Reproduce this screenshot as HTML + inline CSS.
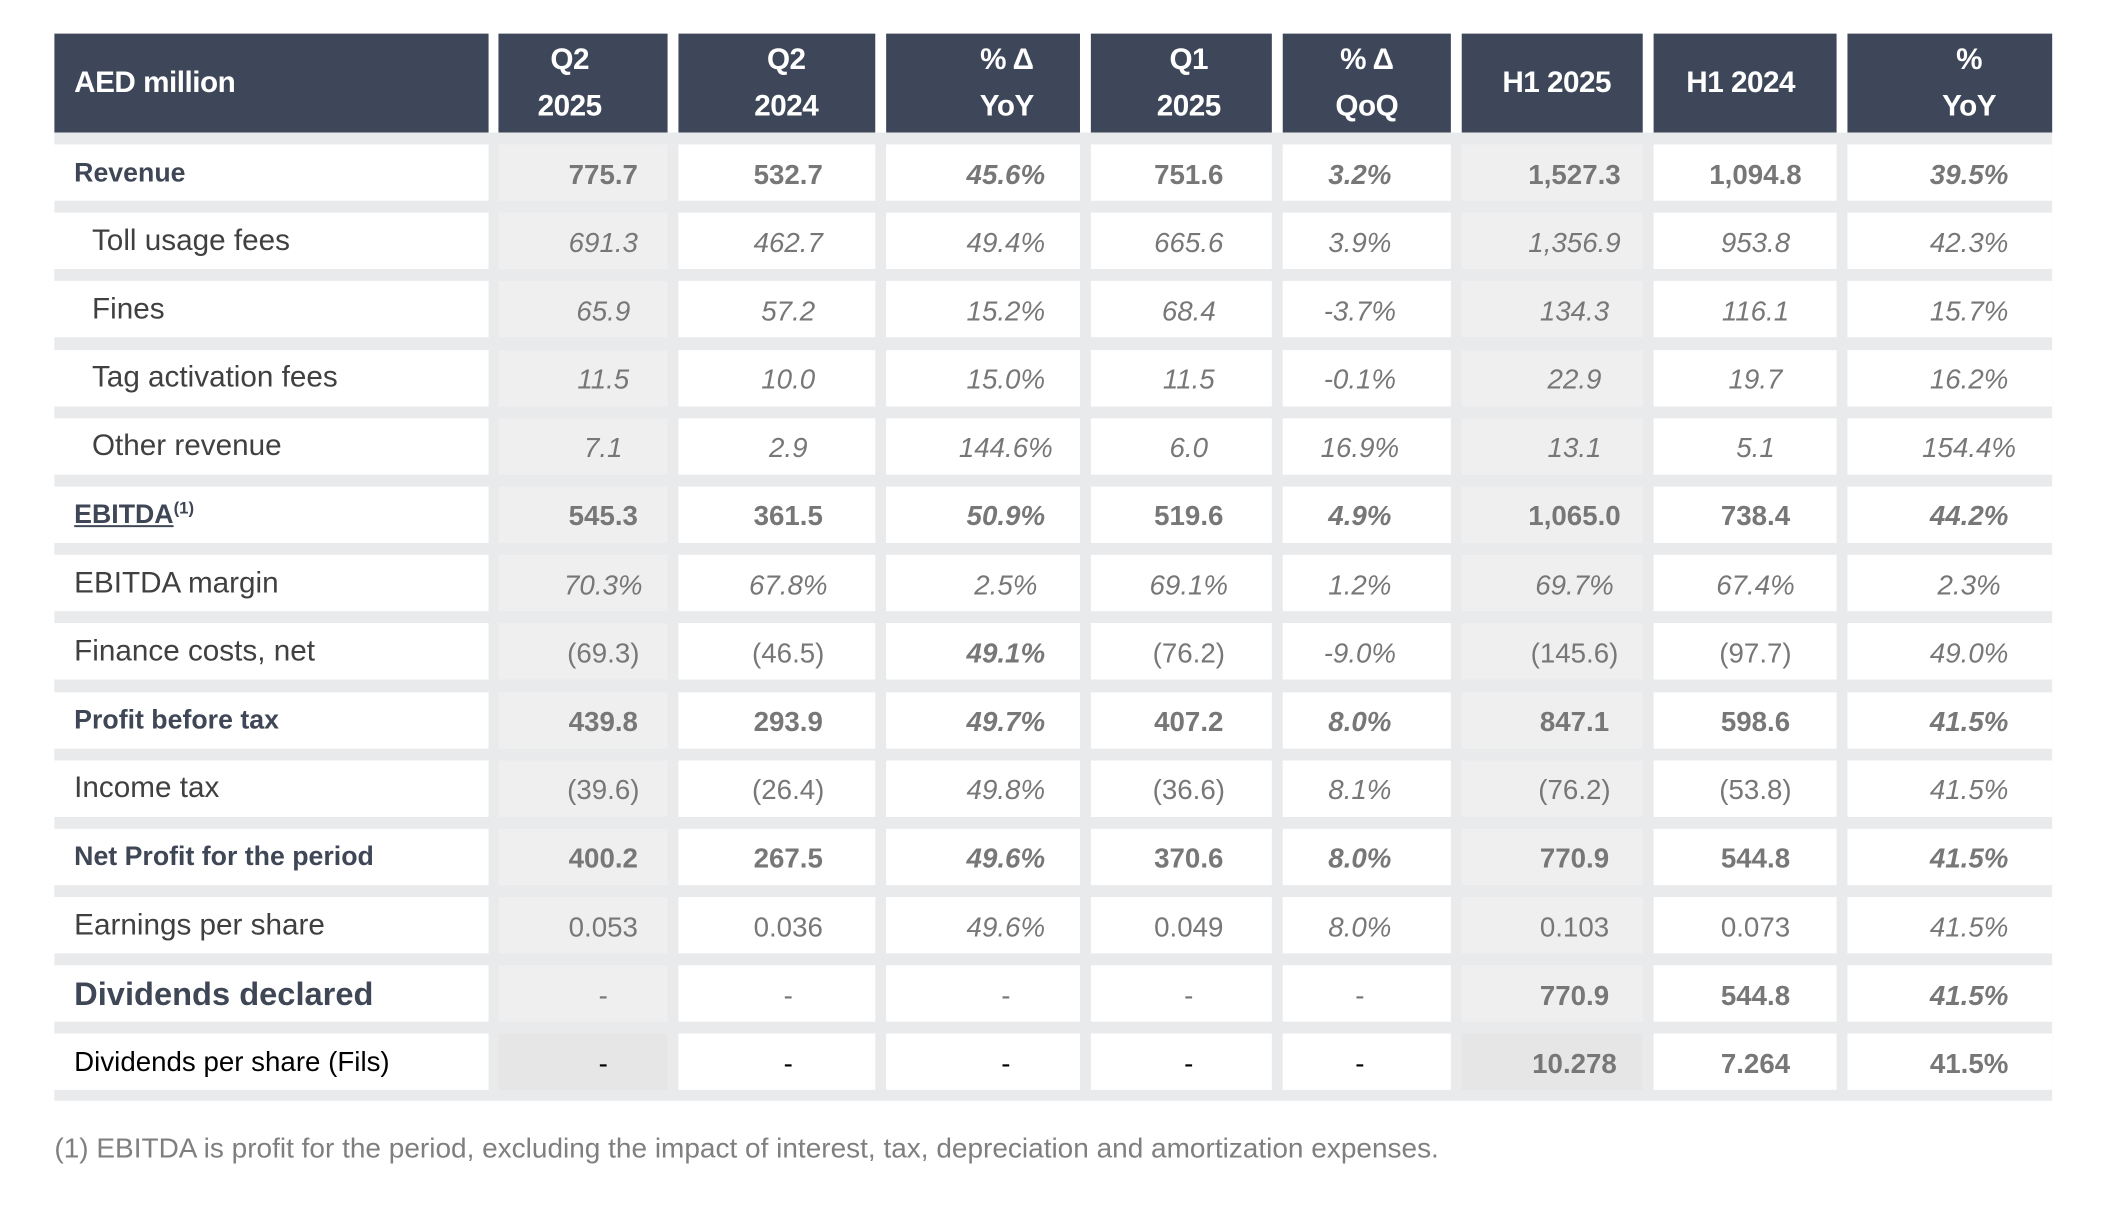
<!DOCTYPE html>
<html><head><meta charset="utf-8"><style>
body{margin:0;width:2124px;height:1227px;background:#fff;position:relative;overflow:hidden;font-family:"Liberation Sans",sans-serif}
#root{position:absolute;left:0;top:0;width:2124px;height:1227px;transform:scale(0.989);transform-origin:0 0}
.c{position:absolute}
.h{background:#3e4759;color:#fff;font-weight:bold;font-size:30px;letter-spacing:-0.5px}
.t{position:absolute;white-space:nowrap;transform:translate(-50%,-50%)}
.l{position:absolute;white-space:nowrap;transform:translateY(-50%);color:#404040;font-size:30px}
.v{color:#777;font-size:28px}
.b{font-weight:bold}.i{font-style:italic}
.dk{color:#3f4757}
</style></head><body>
<div id="root"></div>
<script>
const cols=[[55,494],[504,675],[686,885],[896,1092],[1103,1286],[1297,1467],[1478,1661],[1672,1857],[1868,2075]];
const vc=[610,797,1017,1202,1375,1592,1775,1991];
const hc=[576,795,1018,1202,1382,1574,1760,1991];
const P=69.19, T0=146, RH=57;
let h='';
cols.forEach(c=>{h+=`<div class="c h" style="left:${c[0]}px;top:34px;width:${c[1]-c[0]}px;height:100px"></div>`});
const bandEnd=T0+13*P+RH+11;
h+=`<div class="c" style="left:55px;top:134px;width:2020px;height:${bandEnd-134}px;background:#e9eaec"></div>`;
const hd=[["Q2","2025"],["Q2","2024"],["% Δ","YoY"],["Q1","2025"],["% Δ","QoQ"],["H1 2025"],["H1 2024"],["%","YoY"]];
h+=`<div class="l h" style="left:75px;top:84px;background:none;color:#fff">AED million</div>`;
hd.forEach((d,k)=>{if(d.length==2){h+=`<div class="t h" style="left:${hc[k]}px;top:61px;background:none">${d[0]}</div><div class="t h" style="left:${hc[k]}px;top:108px;background:none">${d[1]}</div>`}else{h+=`<div class="t h" style="left:${hc[k]}px;top:84px;background:none">${d[0]}</div>`}});
const R=[
["Revenue",0,"b dk",["775.7","532.7","45.6%","751.6","3.2%","1,527.3","1,094.8","39.5%"],["b","b","b i","b","b i","b","b","b i"]],
["Toll usage fees",1,"",["691.3","462.7","49.4%","665.6","3.9%","1,356.9","953.8","42.3%"],"i"],
["Fines",1,"",["65.9","57.2","15.2%","68.4","-3.7%","134.3","116.1","15.7%"],"i"],
["Tag activation fees",1,"",["11.5","10.0","15.0%","11.5","-0.1%","22.9","19.7","16.2%"],"i"],
["Other revenue",1,"",["7.1","2.9","144.6%","6.0","16.9%","13.1","5.1","154.4%"],"i"],
["<u>EBITDA</u><sup style='font-size:17px'>(1)</sup>",0,"b dk",["545.3","361.5","50.9%","519.6","4.9%","1,065.0","738.4","44.2%"],["b","b","b i","b","b i","b","b","b i"]],
["EBITDA margin",0,"",["70.3%","67.8%","2.5%","69.1%","1.2%","69.7%","67.4%","2.3%"],"i"],
["Finance costs, net",0,"",["(69.3)","(46.5)","49.1%","(76.2)","-9.0%","(145.6)","(97.7)","49.0%"],["","","b i","","i","","","i"]],
["Profit before tax",0,"b dk",["439.8","293.9","49.7%","407.2","8.0%","847.1","598.6","41.5%"],["b","b","b i","b","b i","b","b","b i"]],
["Income tax",0,"",["(39.6)","(26.4)","49.8%","(36.6)","8.1%","(76.2)","(53.8)","41.5%"],["","","i","","i","","","i"]],
["Net Profit for the period",0,"b dk",["400.2","267.5","49.6%","370.6","8.0%","770.9","544.8","41.5%"],["b","b","b i","b","b i","b","b","b i"]],
["Earnings per share",0,"",["0.053","0.036","49.6%","0.049","8.0%","0.103","0.073","41.5%"],["","","i","","i","","","i"]],
["Dividends declared",0,"b dk big",["-","-","-","-","-","770.9","544.8","41.5%"],["","","","","","b","b","b i"]],
["Dividends per share (Fils)",0,"blk",["-","-","-","-","-","10.278","7.264","41.5%"],["blk","blk","blk","blk","blk","b","b","b"]]
];
R.forEach((r,i)=>{
 const top=T0+i*P, mid=top+RH/2;
 cols.forEach((c,k)=>{let bg='#fff';if(k==1||k==6)bg='#efefef';if(i==13&&(k==1||k==6))bg='#e6e6e6';
  h+=`<div class="c" style="left:${c[0]}px;top:${top}px;width:${c[1]-c[0]}px;height:${RH}px;background:${bg}"></div>`});
 let ls=r[2], fs=30, col='';
 if(ls.includes('b'))fs=ls.includes('big')?33:27;
 if(ls.includes('blk')){col='color:#000;';fs=28}
 h+=`<div class="l ${ls}" style="left:${r[1]?93:75}px;top:${mid}px;font-size:${fs}px;${col}">${r[0]}</div>`;
 r[3].forEach((v,k)=>{let s=Array.isArray(r[4])?r[4][k]:r[4];let st='';if(s.includes('blk'))st='color:#000;';
  h+=`<div class="t v ${s}" style="left:${vc[k]}px;top:${mid+2}px;${st}">${v}</div>`});
});
h+=`<div class="l" style="left:55px;top:1161px;font-size:28.3px;color:#7f7f7f">(1) EBITDA is profit for the period, excluding the impact of interest, tax, depreciation and amortization expenses.</div>`;
document.getElementById('root').innerHTML=h;
</script>
</body></html>
